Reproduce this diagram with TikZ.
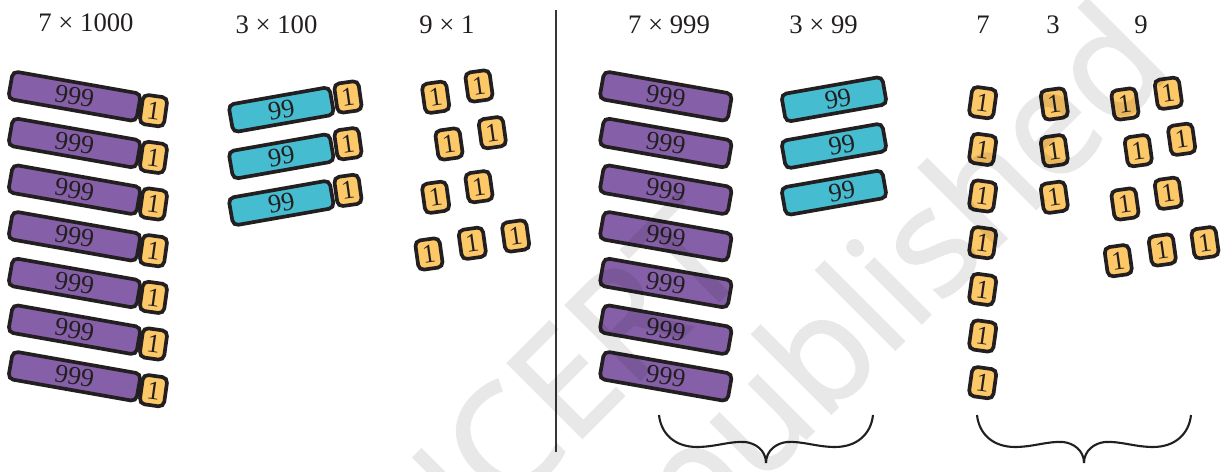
\documentclass[tikz,border=0pt]{standalone}
\usepackage{fontspec}
\setmainfont{Liberation Serif}
\newfontfamily\markfont[FakeBold=1.5]{Open Sans}
\definecolor{barpurple}{HTML}{8560A8}
\definecolor{barteal}{HTML}{45BCCF}
\definecolor{tileyellow}{HTML}{FDC868}
\definecolor{edgedark}{HTML}{231F20}
\tikzset{
	bigbar/.style={draw=edgedark,line width=2.1pt,rounded corners=3pt,fill=barpurple,minimum width=2.6cm,minimum height=0.56cm,inner sep=0pt,font=\fontsize{15}{15}\selectfont,text=edgedark},
	midbar/.style={bigbar,fill=barteal,minimum width=2.05cm},
	tile/.style={draw=edgedark,line width=2.1pt,rounded corners=3pt,fill=tileyellow,minimum width=0.49cm,minimum height=0.59cm,inner sep=0pt,font=\fontsize{15}{15}\selectfont,text=edgedark},
	headlabel/.style={font=\fontsize{15.2}{15.2}\selectfont,text=edgedark},
	markword/.style={font=\fontsize{84}{84}\selectfont\markfont,text=black,rotate=45,anchor=base}
}
\begin{document}
\begin{tikzpicture}[x=0.02cm,y=-0.02cm]
	\useasboundingbox (0,0) rectangle (1225,472);
	
	\node[headlabel] (h1) at (86,23) {7 × 1000};
	\node[headlabel] (h2) at (276.5,25) {3 × 100};
	\node[headlabel] (h3) at (447,25) {9 × 1};
	\node[headlabel] (h4) at (669,25) {7 × 999};
	\node[headlabel] (h5) at (823.5,25) {3 × 99};
	\node[headlabel] (h6) at (983,25) {7};
	\node[headlabel] (h7) at (1053,25) {3};
	\node[headlabel] (h8) at (1141,25) {9};
	
	\node[bigbar,rotate=-10] (a1) at (74.5,96.3) {999};
	\node[bigbar,rotate=-10] (a2) at (74.5,143) {999};
	\node[bigbar,rotate=-10] (a3) at (74.5,189.7) {999};
	\node[bigbar,rotate=-10] (a4) at (74.5,236.3) {999};
	\node[bigbar,rotate=-10] (a5) at (74.5,283) {999};
	\node[bigbar,rotate=-10] (a6) at (74.5,329.7) {999};
	\node[bigbar,rotate=-10] (a7) at (74.5,376.3) {999};
	
	\node[tile,rotate=-8] (b1) at (153.5,110.7) {1};
	\node[tile,rotate=-8] (b2) at (153.5,157.4) {1};
	\node[tile,rotate=-8] (b3) at (153.5,204) {1};
	\node[tile,rotate=-8] (b4) at (153.5,250.7) {1};
	\node[tile,rotate=-8] (b5) at (153.5,297.4) {1};
	\node[tile,rotate=-8] (b6) at (153.5,344) {1};
	\node[tile,rotate=-8] (b7) at (153.5,390.7) {1};
	
	\node[midbar,rotate=10] (c1) at (281.3,109.7) {99};
	\node[midbar,rotate=10] (c2) at (281.3,156.4) {99};
	\node[midbar,rotate=10] (c3) at (281.3,203) {99};
	
	\node[tile,rotate=8] (d1) at (348,97) {1};
	\node[tile,rotate=8] (d2) at (348,143.7) {1};
	\node[tile,rotate=8] (d3) at (348,190.4) {1};
	
	\node[tile,rotate=8] (e1) at (435.7,97.3) {1};
	\node[tile,rotate=8] (e2) at (479,86) {1};
	\node[tile,rotate=8] (e3) at (449,144) {1};
	\node[tile,rotate=8] (e4) at (492.3,132.7) {1};
	\node[tile,rotate=8] (e5) at (435.7,197.3) {1};
	\node[tile,rotate=8] (e6) at (479,186.7) {1};
	\node[tile,rotate=8] (e7) at (429,254) {1};
	\node[tile,rotate=8] (e8) at (472.3,243.3) {1};
	\node[tile,rotate=8] (e9) at (515.7,236) {1};
	
	\node[bigbar,rotate=-10] (f1) at (665.8,96.3) {999};
	\node[bigbar,rotate=-10] (f2) at (665.8,143) {999};
	\node[bigbar,rotate=-10] (f3) at (665.8,189.7) {999};
	\node[bigbar,rotate=-10] (f4) at (665.8,236.3) {999};
	\node[bigbar,rotate=-10] (f5) at (665.8,283) {999};
	\node[bigbar,rotate=-10] (f6) at (665.8,329.7) {999};
	\node[bigbar,rotate=-10] (f7) at (665.8,376.3) {999};
	
	\node[midbar,rotate=10] (g1) at (834,99.3) {\hspace{4.6pt}99};
	\node[midbar,rotate=10] (g2) at (834,146) {\hspace{9pt}99};
	\node[midbar,rotate=10] (g3) at (834,192.7) {\hspace{9pt}99};
	
	\node[tile,rotate=-8] (k1) at (982.7,102.7) {1};
	\node[tile,rotate=-8] (k2) at (982.7,149.4) {1};
	\node[tile,rotate=-8] (k3) at (982.7,196) {1};
	\node[tile,rotate=-8] (k4) at (982.7,242.7) {1};
	\node[tile,rotate=-8] (k5) at (982.7,289.4) {1};
	\node[tile,rotate=-8] (k6) at (982.7,336) {1};
	\node[tile,rotate=-8] (k7) at (982.7,382.7) {1};
	
	\node[tile,rotate=8] (m1) at (1054.3,104) {1};
	\node[tile,rotate=8] (m2) at (1054.3,150.7) {1};
	\node[tile,rotate=8] (m3) at (1054.3,197.3) {1};
	
	\node[tile,rotate=8] (n1) at (1125,104) {1};
	\node[tile,rotate=8] (n2) at (1168.3,93.3) {1};
	\node[tile,rotate=8] (n3) at (1138.3,150.7) {1};
	\node[tile,rotate=8] (n4) at (1181.7,139.3) {1};
	\node[tile,rotate=8] (n5) at (1125,204) {1};
	\node[tile,rotate=8] (n6) at (1168.3,193.3) {1};
	\node[tile,rotate=8] (n7) at (1118.3,260.7) {1};
	\node[tile,rotate=8] (n8) at (1162.3,250) {1};
	\node[tile,rotate=8] (n9) at (1205,242.7) {1};
	
	\draw[line width=1.5pt,color=edgedark!90] (556,10) -- (556,452);
	
	% braces
	\draw[line width=1.2pt,color=edgedark] (659,415) .. controls (661,434) and (675,447) .. (697,447) .. controls (715,447) and (730,441) .. (745,442) .. controls (755,443) and (766,450) .. (766,463);
	\draw[line width=1.2pt,color=edgedark] (873,415) .. controls (871,434) and (857,447) .. (835,447) .. controls (817,447) and (802,441) .. (787,442) .. controls (777,443) and (766,450) .. (766,463);
	\draw[line width=1.2pt,color=edgedark] (977,415) .. controls (979,434) and (993,447) .. (1015,447) .. controls (1033,447) and (1048,441) .. (1063,442) .. controls (1073,443) and (1084,450) .. (1084,463);
	\draw[line width=1.2pt,color=edgedark] (1191,415) .. controls (1189,434) and (1175,447) .. (1153,447) .. controls (1135,447) and (1120,441) .. (1105,442) .. controls (1095,443) and (1084,450) .. (1084,463);
	
	% grey mark over everything
	\begin{scope}[transparency group,opacity=0.09]
		\node[markword] (markone) at (590,430) {NCERT};
		\node[markword] (marktwo) at (935,310) {published};
	\end{scope}
\end{tikzpicture}
\end{document}
